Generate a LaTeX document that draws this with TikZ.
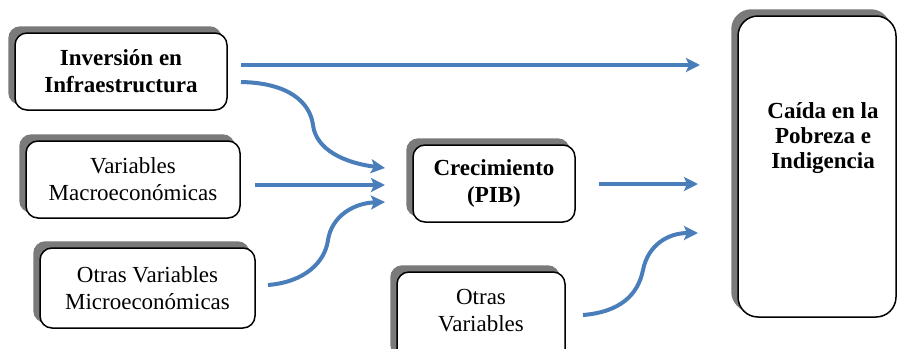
\documentclass[tikz,border=0pt]{standalone}
\usepackage{fontspec}
\setmainfont{Liberation Serif}
\usetikzlibrary{arrows.meta,backgrounds}
\definecolor{arrblue}{HTML}{4A7EBB}
\definecolor{shadowgray}{HTML}{7A7A7A}
\tikzset{
  box/.style={draw=black, line width=0.75pt, fill=white, rounded corners=6pt,
    align=center, inner sep=0pt, font=\fontsize{11.5}{13.5}\selectfont},
  shadowbox/.style={fill=shadowgray, rounded corners=6pt},
  flow/.style={draw=arrblue, line width=2pt, -{Stealth[length=7pt,width=7pt,inset=1.5pt]}}
}
\newcommand{\shadowof}[2][6pt]{%
  \fill[shadowbox, rounded corners=#1] ([shift={(-6,-6)}]#2.north west) rectangle ([shift={(-6,-6)}]#2.south east);}
\begin{document}
\begin{tikzpicture}[x=0.5pt,y=-0.5pt]
\useasboundingbox (0,0) rectangle (899,348);

% boxes
\node[box, minimum width=106pt, minimum height=38.5pt] (inv) at (121,71.5)
  {\bfseries Inversión en\\\bfseries Infraestructura};
\node[box, minimum width=107pt, minimum height=38.5pt] (macro) at (133,179.5)
  {Variables\\Macroeconómicas};
\node[box, minimum width=107.5pt, minimum height=40pt] (micro) at (147.5,288)
  {Otras Variables\\Microeconómicas};
\node[box, minimum width=81pt, minimum height=38.5pt] (crec) at (494,183.5)
  {\bfseries Crecimiento\\\bfseries (PIB)};
\node[box, rounded corners=10pt, minimum width=79pt, minimum height=150.5pt] (caida) at (817,166.5) {};
\node[font=\fontsize{11.5}{12.5}\selectfont\bfseries, align=center] (caidatext) at (823,138)
  {Caída en la\\Pobreza e\\Indigencia};
\node[box, minimum width=84pt, minimum height=45pt] (otras) at (481,317)
  {};
\node[font=\fontsize{11.5}{13.5}\selectfont, align=center] (otrastext) at (481,311)
  {Otras\\Variables};

\begin{scope}[on background layer]
  \shadowof{inv}
  \shadowof{macro}
  \shadowof{micro}
  \shadowof{crec}
  \shadowof[10pt]{caida}
  \shadowof{otras}
\end{scope}

% connector end points
\coordinate (a1) at (241,65);   \coordinate (a2) at (700,65);
\coordinate (b1) at (241,82);   \coordinate (b2) at (385,168);
\coordinate (c1) at (255,185);  \coordinate (c2) at (385,185);
\coordinate (d1) at (268,285);  \coordinate (d2) at (385,202);
\coordinate (e1) at (599,184);  \coordinate (e2) at (698,184);
\coordinate (f1) at (583,315);  \coordinate (f2) at (698,233);

\draw[flow] (a1) -- (a2);
\draw[flow] (b1) .. controls (290,83) and (310,103) .. (313,125)
  .. controls (316,150) and (345,163) .. (b2);
\draw[flow] (c1) -- (c2);
\draw[flow] (d1) .. controls (305,282) and (325,262) .. (328,240)
  .. controls (332,215) and (355,203) .. (d2);
\draw[flow] (e1) -- (e2);
\draw[flow] (f1) .. controls (620,312) and (638,295) .. (643,270)
  .. controls (648,245) and (668,233) .. (f2);
\end{tikzpicture}
\end{document}
